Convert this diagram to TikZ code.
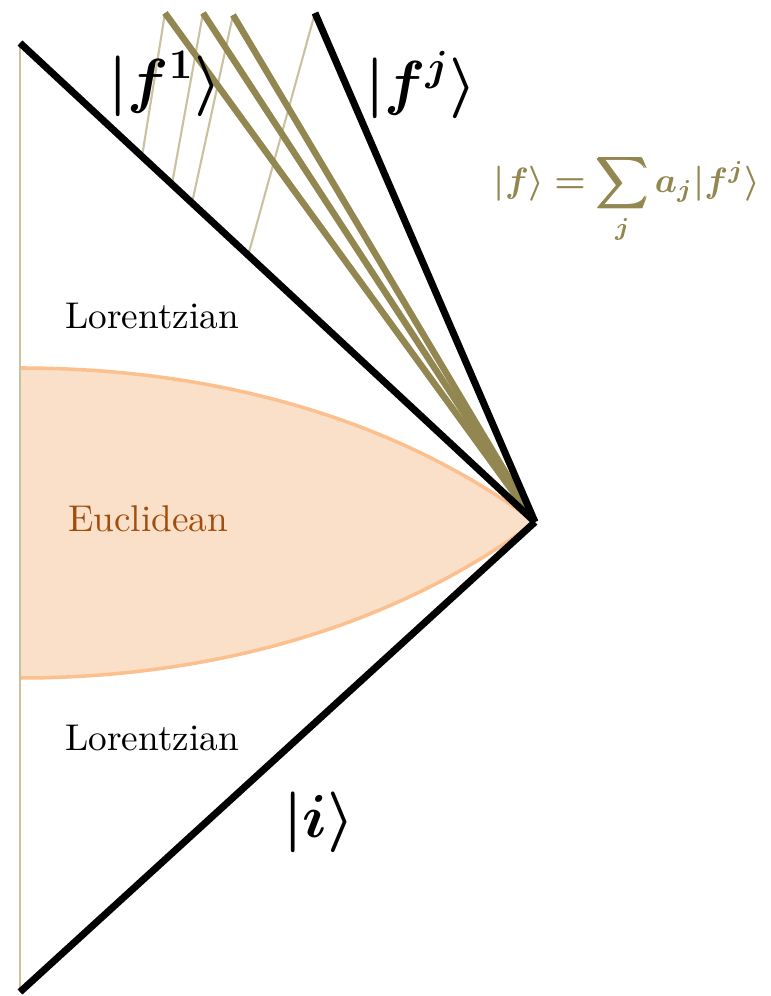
\documentclass[tikz,border=0pt]{standalone}
\usepackage{amsmath, amssymb, bm}
\usetikzlibrary{calc}
\definecolor{stateolive}{RGB}{146,135,80}
\definecolor{paleolive}{RGB}{200,194,160}
\definecolor{eucfill}{RGB}{250,224,200}
\definecolor{eucline}{RGB}{251,192,142}
\definecolor{eucbrown}{RGB}{160,78,16}
\tikzset{
  horizon/.style={line width=2pt, black},
  branch/.style={line width=1.85pt, stateolive},
  ray/.style={line width=0.6pt, paleolive},
  region/.style={font=\fontsize{10.6}{12}\selectfont, inner sep=0pt},
  ketlabel/.style={font=\fontsize{16.5}{20}\selectfont, inner sep=0pt},
  sumlabel/.style={font=\fontsize{10.2}{12}\selectfont, text=stateolive, inner sep=0pt}
}

\begin{document}
\begin{tikzpicture}
  \useasboundingbox (0,0) rectangle (7.71,9.96);
  % corners of the diagram
  \coordinate (apex) at (5.35,4.74);
  \coordinate (tl) at (0.20,9.53);
  \coordinate (bl) at (0.20,0.04);
  \coordinate (tj) at (3.15,9.83);
  \coordinate (o1) at (1.65,9.83);
  \coordinate (o2) at (2.03,9.83);
  \coordinate (o3) at (2.33,9.81);
  \coordinate (et) at (0.20,6.28);
  \coordinate (eb) at (0.20,3.18);
  % Euclidean cap
  \fill[eucfill] (et) .. controls (2.2,6.28) and (4.0,5.75) .. (apex)
    .. controls (4.0,3.73) and (2.2,3.18) .. (eb) -- cycle;
  \draw[eucline, line width=1pt] (et) .. controls (2.2,6.28) and (4.0,5.75) .. (apex);
  \draw[eucline, line width=1pt] (eb) .. controls (2.2,3.18) and (4.0,3.73) .. (apex);
  \draw[ray] (tl) -- (bl);
  % thin rays back to the past horizon
  \draw[ray] (o1) -- ($(tl)!0.237!(apex)$);
  \draw[ray] (o2) -- ($(tl)!0.295!(apex)$);
  \draw[ray] (o3) -- ($(tl)!0.334!(apex)$);
  \draw[ray] (tj) -- ($(tl)!0.443!(apex)$);
  % branches
  \draw[branch] (o1) -- (apex);
  \draw[branch] (o2) -- (apex);
  \draw[branch] (o3) -- (apex);
  % horizons
  \draw[horizon] (tl) -- (apex);
  \draw[horizon] (bl) -- (apex);
  \draw[horizon] (tj) -- (apex);
  % labels
  \node[region] (lor1) at (1.52,6.80) {Lorentzian};
  \node[region, text=eucbrown] (euc) at (1.48,4.77) {Euclidean};
  \node[region] (lor2) at (1.52,2.58) {Lorentzian};
  \node[ketlabel] (f1) at (1.65,9.12) {$\bm{|f^1\rangle}$};
  \node[ketlabel] (fj) at (4.21,9.11) {$\bm{|f^j\rangle}$};
  \node[ketlabel] (ket) at (3.19,1.74) {$\bm{|i\rangle}$};
  \node[sumlabel] (sum) at (6.27,7.97) {$\displaystyle\bm{|f\rangle = \sum_j a_j|f^j\rangle}$};
\end{tikzpicture}
\end{document}
